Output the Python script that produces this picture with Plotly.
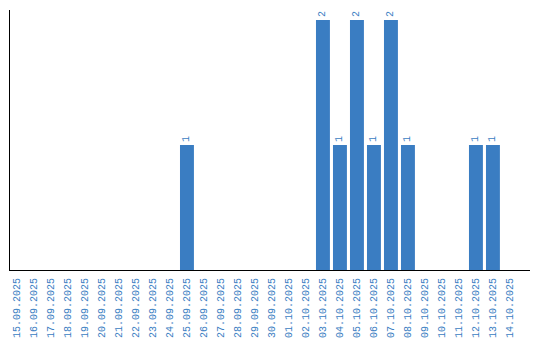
import plotly.graph_objects as go

dates = ["15.09.2025", "16.09.2025", "17.09.2025", "18.09.2025", "19.09.2025",
         "20.09.2025", "21.09.2025", "22.09.2025", "23.09.2025", "24.09.2025",
         "25.09.2025", "26.09.2025", "27.09.2025", "28.09.2025", "29.09.2025",
         "30.09.2025", "01.10.2025", "02.10.2025", "03.10.2025", "04.10.2025",
         "05.10.2025", "06.10.2025", "07.10.2025", "08.10.2025", "09.10.2025",
         "10.10.2025", "11.10.2025", "12.10.2025", "13.10.2025", "14.10.2025"]
counts = [0, 0, 0, 0, 0, 0, 0, 0, 0, 0,
          1, 0, 0, 0, 0, 0, 0, 0, 2, 1,
          2, 1, 2, 1, 0, 0, 0, 1, 1, 0]

blue = "#3a7dc2"
font_family = "Liberation Mono"

fig = go.Figure(go.Bar(
    x=dates, y=counts,
    marker=dict(color=blue, line=dict(width=0)),
    text=[str(v) if v else "" for v in counts],
    textposition="outside",
    textangle=-90,
    textfont=dict(color=blue, size=10, family=font_family),
    cliponaxis=False,
))

fig.update_layout(
    width=540, height=340,
    margin=dict(l=10, r=10, t=10, b=70, autoexpand=False),
    paper_bgcolor="white", plot_bgcolor="white",
    bargap=0.18,
    showlegend=False,
    xaxis=dict(
        type="category",
        range=[-0.41, 30.18],
        automargin=False,
        showline=True, linecolor="black", linewidth=1,
        showgrid=False, ticks="", tickangle=-90,
        ticklabelstandoff=3,
        tickfont=dict(color=blue, size=10, family=font_family),
        fixedrange=True,
    ),
    yaxis=dict(
        range=[0, 2.08],
        automargin=False,
        showline=True, linecolor="black", linewidth=1,
        showgrid=False, zeroline=False, showticklabels=False, ticks="",
    ),
)

fig.write_html("out.html")
